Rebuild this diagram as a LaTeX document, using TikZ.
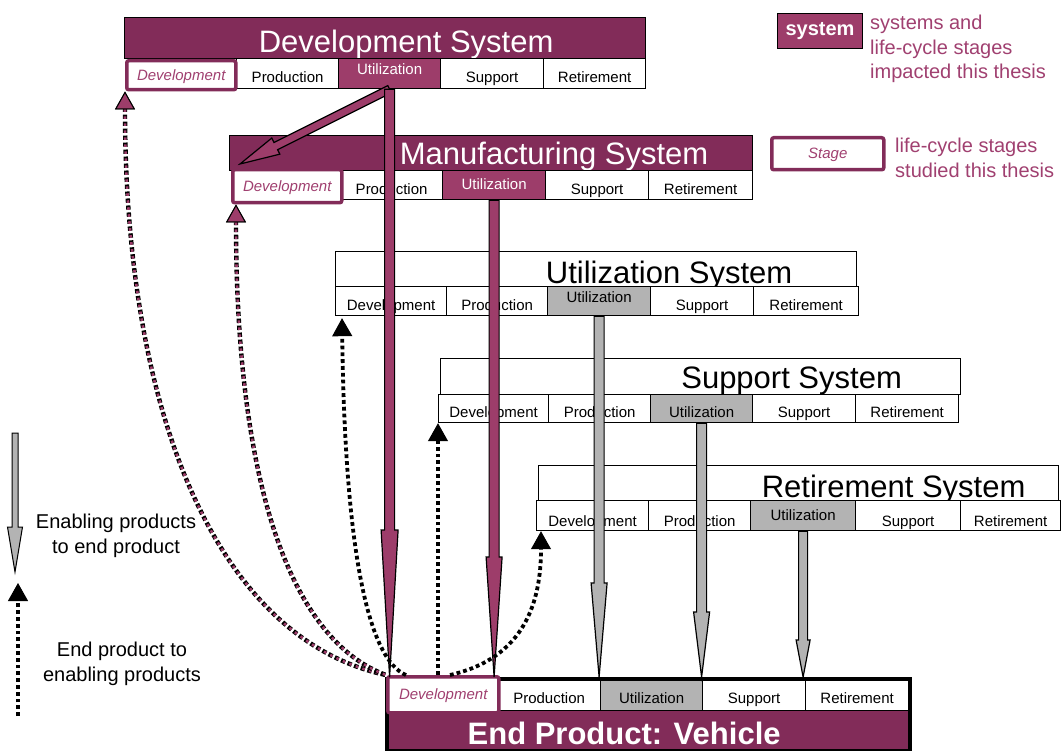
\documentclass[tikz,border=0pt]{standalone}
\usepackage{fontspec}
\setmainfont{Liberation Sans}
\usetikzlibrary{calc,arrows.meta}
\definecolor{thesismaroon}{RGB}{130,44,89}
\definecolor{thesisplum}{RGB}{157,61,106}
\definecolor{thesistext}{RGB}{160,64,112}
\definecolor{enablegrey}{RGB}{179,179,179}
\tikzset{
    cell/.style={draw, line width=1.2pt, fill=white, anchor=north west, inner sep=0pt,
        minimum height=29pt, text height=20pt, text depth=2pt, font=\fontsize{15}{18}\selectfont},
    upcell/.style={cell, text height=12pt, text depth=10pt},
    studied/.style={cell, draw=thesismaroon, line width=3.5pt, rounded corners=2pt,
        text height=16pt, text depth=6pt, text=thesistext, font=\fontsize{15}{18}\selectfont\itshape},
    impacted/.style={fill=thesisplum, text=white},
    enabling/.style={fill=enablegrey},
    sysbar/.style={draw, line width=1.2pt, fill=white, anchor=north west, inner sep=0pt, minimum height=35pt},
    systitle/.style={anchor=base, inner sep=0pt, font=\fontsize{31}{36}\selectfont},
    keytext/.style={text=thesistext, align=left, inner sep=0pt, font=\fontsize{20}{24.5}\selectfont},
    impactarrow/.style={draw=black, fill=thesisplum, line width=1.2pt, line join=miter},
    enablearrow/.style={draw=black, fill=enablegrey, line width=1.2pt, line join=miter},
    feedback/.style={line width=3.8pt, dash pattern=on 3.8pt off 3pt,
        -{Triangle[length=18pt,width=20pt,line width=1pt]}},
    plumfeedback/.style={thesisplum, line width=2.6pt, dash pattern=on 2.6pt off 4.4pt, dash phase=6.1pt,
        preaction={draw=black, line width=4.4pt, dash pattern=on 4.4pt off 2.6pt},
        -{Triangle[length=18pt,width=20pt,color=black,fill=thesisplum,line width=1pt]}},
}
% fat arrow: style, from, to, shaft half width, head half width, head length
\newcommand\fatarrow[6]{%
    \path ($(#3)!#6!(#2)$) coordinate (headbase);
    \draw[#1] ($(#2)!#4!90:(#3)$) -- ($(headbase)!#4!90:(#3)$) -- ($(headbase)!#5!90:(#3)$) -- (#3)
        -- ($(headbase)!#5!-90:(#3)$) -- ($(headbase)!#4!-90:(#3)$) -- ($(#2)!#4!-90:(#3)$) -- cycle;
}
\begin{document}
\begin{tikzpicture}[x=1pt, y=-1pt]
    \useasboundingbox (0,0) rectangle (1062,751);

    % development system
    \node[sysbar, fill=thesismaroon, minimum width=521pt, minimum height=41pt] (devsys) at (124,17) {};
    \node[systitle, text=white] (devtitle) at ($(devsys.south)+(21,-7)$) {Development System};
    \node[cell, minimum width=102pt, minimum height=30pt] (devpr) at (236,58) {Production};
    \node[upcell, impacted, minimum width=102pt, minimum height=30pt] (devut) at (338,58) {Utilization};
    \node[cell, minimum width=103pt, minimum height=30pt] (devsu) at (440,58) {Support};
    \node[cell, minimum width=102pt, minimum height=30pt] (devre) at (543,58) {Retirement};
    \node[studied, minimum width=109pt] (devdv) at (125,59) {Development};

    % manufacturing system
    \node[sysbar, fill=thesismaroon, minimum width=523pt] (mfsys) at (229,135) {};
    \node[systitle, text=white] (mftitle) at ($(mfsys.south)+(63,-7)$) {Manufacturing System};
    \node[cell, minimum width=102pt] (mfpr) at (340,170) {Production};
    \node[upcell, impacted, minimum width=103pt, text height=15pt, text depth=7pt] (mfut) at (442,170) {Utilization};
    \node[cell, minimum width=103pt] (mfsu) at (545,170) {Support};
    \node[cell, minimum width=104pt] (mfre) at (648,170) {Retirement};
    \node[studied, minimum width=109pt, minimum height=33pt] (mfdv) at (231,168) {Development};

    % utilization system
    \node[sysbar, minimum width=521pt] (utsys) at (335,251) {};
    \node[systitle] (uttitle) at ($(utsys.south)+(73,-4)$) {Utilization System};
    \node[cell, minimum width=111pt] (utdv) at (335,286) {Development};
    \node[cell, minimum width=101pt] (utpr) at (446,286) {Production};
    \node[upcell, enabling, minimum width=103pt] (utut) at (547,286) {Utilization};
    \node[cell, minimum width=103pt] (utsu) at (650,286) {Support};
    \node[cell, minimum width=105pt] (utre) at (753,286) {Retirement};

    % support system
    \node[sysbar, minimum width=520pt, minimum height=36pt] (spsys) at (440,358) {};
    \node[systitle] (sptitle) at ($(spsys.south)+(91,-7)$) {Support System};
    \node[cell, minimum width=110pt, minimum height=28pt] (spdv) at (438,394) {Development};
    \node[cell, minimum width=102pt, minimum height=28pt] (sppr) at (548,394) {Production};
    \node[cell, enabling, minimum width=102pt, minimum height=28pt] (sput) at (650,394) {Utilization};
    \node[cell, minimum width=103pt, minimum height=28pt] (spsu) at (752,394) {Support};
    \node[cell, minimum width=103pt, minimum height=28pt] (spre) at (855,394) {Retirement};

    % retirement system
    \node[sysbar, minimum width=520pt] (rtsys) at (538,465) {};
    \node[systitle] (rttitle) at ($(rtsys.south)+(95,-4)$) {Retirement System};
    \node[cell, minimum width=112pt, minimum height=30pt, text height=22pt, text depth=1pt] (rtdv) at (536,500) {Development};
    \node[cell, minimum width=102pt, minimum height=30pt, text height=22pt, text depth=1pt] (rtpr) at (648,500) {Production};
    \node[cell, enabling, minimum width=105pt, minimum height=30pt, text height=16pt, text depth=6pt] (rtut) at (750,500) {Utilization};
    \node[cell, minimum width=105pt, minimum height=30pt, text height=22pt, text depth=1pt] (rtsu) at (855,500) {Support};
    \node[cell, minimum width=100pt, minimum height=30pt, text height=22pt, text depth=1pt] (rtre) at (960,500) {Retirement};

    % end product
    \node[sysbar, draw=none, fill=thesismaroon, minimum width=523pt, minimum height=40pt] (epsys) at (385,710) {};
    \node[systitle, text=white, font=\fontsize{31}{36}\selectfont\bfseries] (eptitle) at ($(epsys.south)+(-23,-7)$) {End Product: Vehicle};
    \node[cell, minimum width=103pt, minimum height=33pt] (eppr) at (497,677) {Production};
    \node[cell, enabling, minimum width=102pt, minimum height=33pt] (eput) at (600,677) {Utilization};
    \node[cell, minimum width=103pt, minimum height=33pt] (epsu) at (702,677) {Support};
    \node[cell, minimum width=103pt, minimum height=33pt] (epre) at (805,677) {Retirement};
    \node[draw, line width=4pt, anchor=north west, inner sep=0pt, minimum width=523pt, minimum height=72pt] (epframe) at (385,677) {};
    \node[studied, minimum width=111pt, minimum height=36pt] (epdv) at (386,675) {Development};

    % key
    \node[draw, line width=1pt, fill=thesisplum, text=white, anchor=north west, inner sep=0pt,
        minimum width=85pt, minimum height=35pt, font=\fontsize{20}{24}\selectfont\bfseries] (keysys) at (777,13) {system};
    \node[keytext, anchor=north west] (keysystext) at (870,15) {systems and\\life-cycle stages\\impacted this thesis};
    \node[studied, minimum width=112pt, minimum height=32pt] (keystage) at (770,136) {Stage};
    \node[keytext, anchor=north west] (keystagetext) at (895,138) {life-cycle stages\\studied this thesis};
    \node[keytext, text=black, align=center, anchor=north] (keyenable) at (116,514) {Enabling products\\to end product};
    \node[keytext, text=black, align=center, anchor=north] (keyend) at (122,642) {End product to\\enabling products};
    \coordinate (keygreytop) at (15,433);
    \coordinate (keygreytip) at (15,572);
    \coordinate (keydotbot) at (18,716);
    \coordinate (keydottip) at (18,583);
    \fatarrow{enablearrow, line width=1pt}{keygreytop}{keygreytip}{3pt}{7.5pt}{45pt}
    \draw[feedback] (keydotbot) -- (keydottip);

    % enabling products to end product
    \coordinate (devutland) at (devut.south |- epframe.north);
    \coordinate (mfutland) at (mfut.south |- epframe.north);
    \coordinate (ututland) at (utut.south |- epframe.north);
    \coordinate (sputland) at (sput.south |- epframe.north);
    \coordinate (rtutland) at (rtut.south |- epframe.north);
    \coordinate (mfdvcorner) at ($(mfdv.north west)+(9,-4)$);
    \fatarrow{impactarrow}{devut.south}{mfdvcorner}{4pt}{9pt}{40pt}
    \fatarrow{impactarrow}{devut.south}{devutland}{5pt}{8.5pt}{147pt}
    \fatarrow{impactarrow}{mfut.south}{mfutland}{5pt}{8pt}{120pt}
    \fatarrow{enablearrow}{utut.south}{ututland}{5pt}{8pt}{94pt}
    \fatarrow{enablearrow}{sput.south}{sputland}{5pt}{8pt}{65pt}
    \fatarrow{enablearrow}{rtut.south}{rtutland}{4.5pt}{7pt}{37pt}

    % end product to enabling products
    \draw[plumfeedback] (epdv.north west) .. controls ($(epdv.north west)+(-165,-35)$) and ($(devdv.south west)+(0,330)$) .. (devdv.south west);
    \draw[plumfeedback] (epdv.north west) .. controls ($(epdv.north west)+(-95,-35)$) and ($(mfdv.south west)+(5,280)$) .. ($(mfdv.south west)+(5,0)$);
    \draw[feedback] ($(epdv.north west)+(20,0)$) .. controls ($(epdv.north west)+(-16,-15)$) and ($(utdv.south west)+(10,244)$) .. ($(utdv.south west)+(7,2)$);
    \draw[feedback] (spdv.south west |- epdv.north) -- (spdv.south west);
    \draw[feedback] ($(epdv.north west)+(64,0)$) .. controls ($(epdv.north west)+(139,-17)$) and ($(rtdv.south west)+(5,70)$) .. ($(rtdv.south west)+(5,0)$);
\end{tikzpicture}
\end{document}
